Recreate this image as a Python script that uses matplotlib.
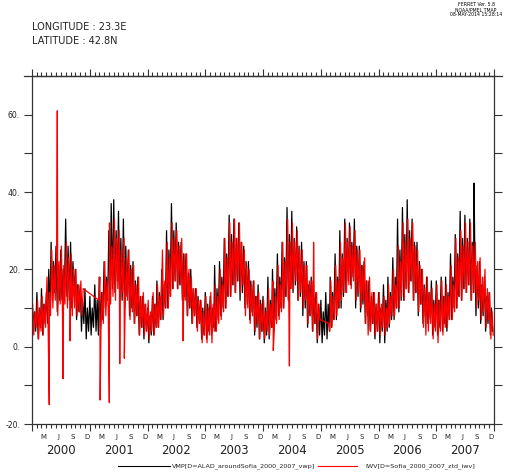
import matplotlib

matplotlib.use("Agg")
import matplotlib.dates as mdates
import matplotlib.pyplot as plt
import numpy as np
from matplotlib.lines import Line2D

plt.rcParams["font.family"] = "DejaVu Sans"

YEARS = list(range(2000, 2008))
MONTH_LETTERS = {3: "M", 6: "J", 9: "S", 12: "D"}

# four readings per month (high / low swings of the daily noise)
VMP_DAYS = [1, 9, 16, 24]
IWV_DAYS = [5, 12, 20, 27]

VMP_2000 = [12, 5, 9, 4,   14, 2, 10, 5,   15, 3, 11, 6,
            14, 6, 20, 9,  27, 12, 22, 14, 26, 9, 21, 12,
            25, 12, 20, 14, 33, 13, 26, 12, 27, 10, 22, 13,
            20, 7, 16, 9,  16, 4, 12, 6,   15, 2, 10, 4]
VMP_2001 = [13, 3, 10, 5,  16, 4, 12, 3,   18, 5, 14, 7,
            22, 10, 18, 12, 30, 12, 37, 15, 38, 14, 30, 17,
            35, 13, 28, 12, 33, 10, 26, 13, 25, 8, 21, 10,
            22, 6, 17, 8,  18, 3, 13, 5,   13, 2, 11, 4]
VMP_2002 = [10, 1, 8, 3,   13, 3, 11, 5,   17, 5, 14, 7,
            20, 7, 16, 10, 30, 10, 25, 13, 37, 15, 30, 17,
            32, 15, 27, 16, 27, 12, 24, 13, 24, 8, 19, 10,
            20, 6, 15, 8,  15, 5, 13, 6,   12, 2, 10, 3]
VMP_2003 = [14, 2, 11, 4,  13, 3, 10, 5,   21, 4, 15, 7,
            22, 8, 18, 10, 28, 10, 24, 13, 34, 13, 29, 16,
            33, 14, 28, 17, 32, 12, 27, 14, 26, 10, 22, 11,
            22, 7, 17, 9,  17, 3, 13, 5,   16, 2, 12, 4]
VMP_2004 = [13, 1, 10, 3,  18, 2, 12, 5,   20, 4, 15, 7,
            24, 8, 18, 10, 27, 10, 23, 13, 36, 12, 29, 15,
            35, 14, 28, 16, 31, 12, 26, 13, 27, 8, 22, 10,
            22, 5, 16, 8,  18, 4, 13, 6,   14, 1, 11, 3]
VMP_2005 = [12, 1, 9, 3,   14, 2, 11, 4,   18, 5, 14, 7,
            24, 7, 18, 10, 30, 10, 24, 13, 33, 14, 28, 17,
            32, 16, 27, 18, 33, 10, 26, 13, 26, 9, 21, 11,
            22, 6, 17, 8,  17, 4, 13, 6,   14, 2, 11, 4]
VMP_2006 = [14, 1, 10, 4,  16, 1, 12, 4,   18, 5, 14, 7,
            23, 7, 18, 10, 33, 9, 25, 12,  36, 12, 29, 15,
            38, 14, 30, 17, 33, 12, 27, 14, 27, 8, 22, 11,
            20, 6, 16, 8,  18, 6, 14, 7,   17, 3, 12, 5]
VMP_2007 = [17, 3, 12, 5,  18, 4, 13, 6,   18, 4, 14, 7,
            24, 7, 18, 10, 29, 10, 24, 13, 35, 12, 28, 15,
            34, 14, 28, 16, 33, 12, 27, 14, 26, 8, 21, 10,
            22, 6, 16, 8,  18, 4, 13, 6,   14, 3, 10, 4]

nan = np.nan
IWV_2000 = [11, 3, 9, 5,   12, 2, 10, 4,   13, 3, 11, 5,
            18, 5, 14, 8,  25, 10, 21, 12, 26, 8, 22, 11,
            26, 8, 21, 11, 27, 10, 23, 12, 24, 8, 20, 10,
            20, 8, 16, 9,  17, 8, 15, nan, nan, nan, nan, nan]
IWV_2001 = [nan, nan, nan, nan, nan, nan, nan, 12, 18, 4, 14, 6,
            22, 8, 17, 10, 32, 11, 26, 13, 33, 12, 28, 15,
            30, 12, 25, 14, 28, 10, 23, 12, 25, 7, 20, 9,
            21, 6, 16, 8,  18, 3, 13, 5,   14, 3, 11, 4]
IWV_2002 = [12, 2, 9, 4,   14, 3, 11, 5,   16, 5, 13, 7,
            25, 8, 17, 10, 27, 10, 23, 13, 32, 15, 28, 17,
            30, 15, 26, 16, 28, 10, 24, 12, 24, 8, 20, 10,
            18, 6, 15, 8,  15, 4, 12, 6,   12, 1, 9, 3]
IWV_2003 = [13, 1, 10, 3,  14, 1, 11, 4,   16, 4, 13, 6,
            20, 7, 16, 9,  28, 10, 23, 13, 32, 13, 27, 16,
            33, 14, 28, 17, 32, 14, 27, 16, 25, 8, 21, 10,
            20, 6, 16, 8,  17, 4, 13, 6,   14, 2, 11, 4]
IWV_2004 = [12, 2, 9, 4,   15, 3, 11, 5,   17, 4, 13, 6,
            21, 7, 16, 9,  27, 10, 22, 13, 33, 12, 27, 15,
            32, 15, 27, 17, 30, 12, 25, 14, 25, 10, 21, 12,
            21, 6, 17, 8,  17, 4, 13, 6,   14, 2, 11, 7]
IWV_2005 = [nan, nan, nan, nan, nan, nan, 6, 4, 17, 5, 13, 7,
            21, 8, 17, 10, 27, 12, 23, 14, 32, 14, 27, 16,
            31, 15, 26, 17, 30, 12, 25, 14, 25, 10, 21, 12,
            23, 6, 17, 3,  18, 4, 14, 6,   14, 3, 11, 4]
IWV_2006 = [14, 3, 11, 5,  13, 3, 10, 5,   16, 6, 13, 8,
            20, 8, 16, 10, 26, 10, 22, 13, 32, 12, 27, 15,
            33, 14, 28, 17, 32, 12, 26, 14, 25, 9, 21, 11,
            20, 5, 15, 3,  18, 4, 14, 6,   15, 2, 11, 4]
IWV_2007 = [16, 1, 12, 4,  17, 3, 13, 5,   16, 5, 13, 7,
            21, 7, 16, 9,  28, 10, 23, 13, 30, 12, 26, 15,
            32, 14, 27, 16, 32, 12, 26, 14, 27, 10, 22, 12,
            23, 7, 18, 9,  20, 5, 15, 7,   14, 2, 9, 3]

# isolated spikes
IWV_SPIKE_DATES = ["2000-04-19", "2000-06-09", "2000-07-15", "2000-08-29",
                   "2001-03-07", "2001-05-04", "2001-07-09", "2001-08-07",
                   "2002-08-14", "2004-03-06", "2004-06-16", "2004-11-16"]
IWV_SPIKE_VALUES = [-15, 61, -8.3, 1.5, -13.8, -14.5, -4.4, -3, 1.5, -1, -5, 27]
VMP_SPIKE_DATES = ["2007-08-28"]
VMP_SPIKE_VALUES = [42.3]

VMP_LABEL = "VMP[D=ALAD_aroundSofia_2000_2007_vwp]"
IWV_LABEL = "IWV[D=Sofia_2000_2007_ztd_iwv]"

W, H = 525, 472


def build_series(yearly, days, spike_dates, spike_values):
    dates = [np.datetime64(f"{y}-{m:02d}-{d:02d}")
             for y in YEARS for m in range(1, 13) for d in days]
    values = [v for row in yearly for v in row]
    dates = np.array(dates + [np.datetime64(s) for s in spike_dates])
    values = np.array(values + list(spike_values), dtype=float)
    order = np.argsort(dates, kind="stable")
    dates, values = dates[order], values[order]
    keep = ~np.isnan(values)  # gaps are bridged by a straight line, as in ferret
    return dates[keep], values[keep]


def fx(px):
    return px / W


def fy(py):
    return 1 - py / H


def main() -> None:
    vmp_d, vmp_v = build_series(
        [VMP_2000, VMP_2001, VMP_2002, VMP_2003, VMP_2004, VMP_2005, VMP_2006, VMP_2007],
        VMP_DAYS, VMP_SPIKE_DATES, VMP_SPIKE_VALUES)
    iwv_d, iwv_v = build_series(
        [IWV_2000, IWV_2001, IWV_2002, IWV_2003, IWV_2004, IWV_2005, IWV_2006, IWV_2007],
        IWV_DAYS, IWV_SPIKE_DATES, IWV_SPIKE_VALUES)

    fig = plt.figure(figsize=(W / 100, H / 100), dpi=100)
    ax = fig.add_axes([fx(32), fy(424), fx(494) - fx(32), fy(76) - fy(424)])

    ax.plot(vmp_d, vmp_v, color="black", lw=0.9)
    ax.plot(iwv_d, iwv_v, color="red", lw=0.9)

    ax.set_xlim(np.datetime64("2000-01-01"), np.datetime64("2008-01-01"))
    ax.set_ylim(-20, 70)

    spine_c = "#333333"
    for sp in ax.spines.values():
        sp.set_color(spine_c)
        sp.set_linewidth(0.9)

    ax.xaxis.set_major_locator(mdates.YearLocator())
    ax.xaxis.set_minor_locator(mdates.MonthLocator())
    ax.xaxis.set_major_formatter(plt.NullFormatter())
    ax.tick_params(axis="x", which="major", top=True, direction="out",
                   length=5, width=0.8, color=spine_c)
    ax.tick_params(axis="x", which="minor", top=True, direction="out",
                   length=3, width=0.8, color=spine_c)

    yt = list(range(-20, 61, 10))
    ax.set_yticks(yt)
    ax.set_yticklabels([f"{v}." if v % 20 == 0 else "" for v in yt])
    ax.tick_params(axis="y", right=True, direction="out", length=5.5,
                   width=0.8, color=spine_c, labelsize=5.6, pad=3,
                   labelcolor="#222222")

    xt = ax.get_xaxis_transform()
    for y in YEARS:
        for m, letter in MONTH_LETTERS.items():
            ax.text(np.datetime64(f"{y}-{m:02d}-15"), -0.036, letter, transform=xt,
                    ha="center", va="center", fontsize=5, color="#222222")
        ax.text(np.datetime64(f"{y}-07-02"), -0.077, str(y), transform=xt,
                ha="center", va="center", fontsize=8.5, color="#222222")

    # ferret draws the upper axis line slightly past the frame
    fig.add_artist(Line2D([fx(24), fx(502)], [fy(76), fy(76)], color=spine_c, lw=0.9))

    fig.text(fx(32), fy(27.5), "LONGITUDE : 23.3E", fontsize=7, va="center", color="#222222")
    fig.text(fx(32), fy(41), "LATITUDE : 42.8N", fontsize=7, va="center", color="#222222")

    fig.text(fx(476), fy(5), "FERRET Ver. 5.8", fontsize=3.3, ha="center", va="center")
    fig.text(fx(476), fy(10), "NOAA/PMEL TMAP", fontsize=3.3, ha="center", va="center")
    fig.text(fx(450), fy(15), "08-MAY-2014 15:28:14", fontsize=3.3, ha="left", va="center")

    fig.add_artist(Line2D([fx(118), fx(170)], [fy(466), fy(466)], color="black", lw=0.8))
    fig.text(fx(172), fy(466), VMP_LABEL, fontsize=4.6, va="center", color="#222222")
    fig.add_artist(Line2D([fx(318), fx(357)], [fy(466), fy(466)], color="red", lw=0.8))
    fig.text(fx(365), fy(466), IWV_LABEL, fontsize=4.6, va="center", color="#222222")

    fig.savefig("out.png", dpi=100)
    plt.close(fig)


if __name__ == "__main__":
    main()
